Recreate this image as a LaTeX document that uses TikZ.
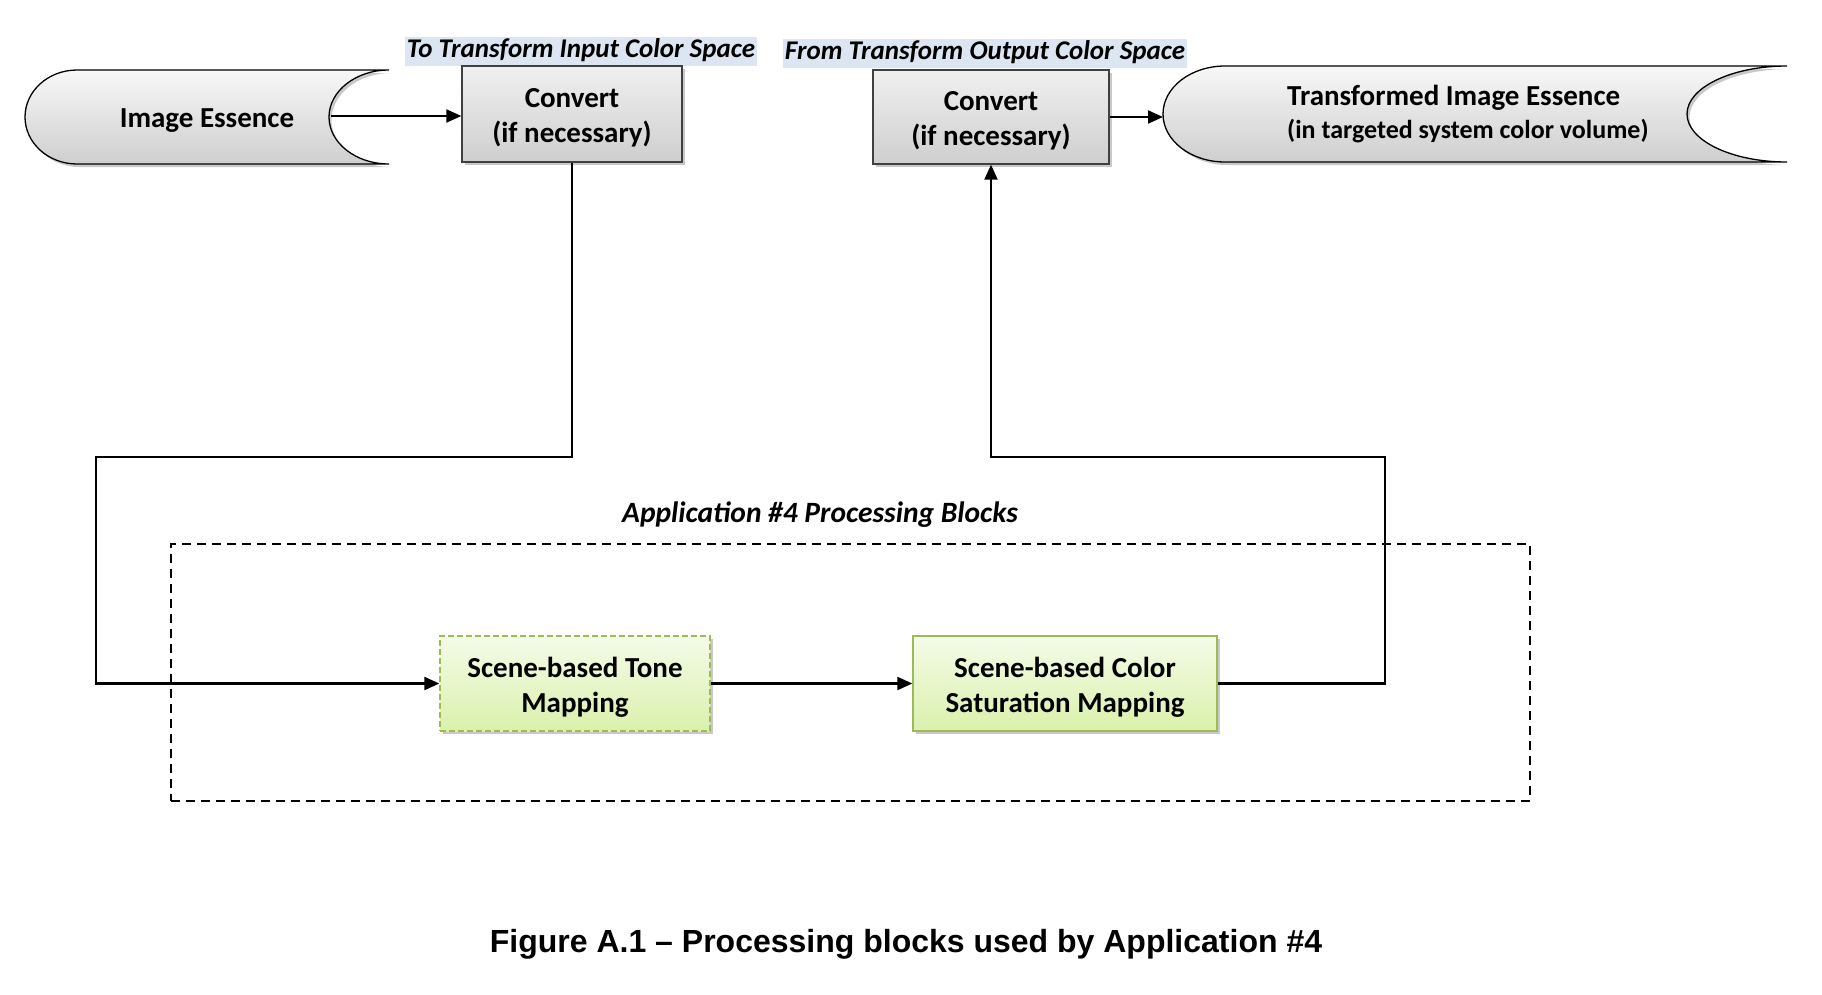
\documentclass[tikz,border=0pt]{standalone}
\usepackage{fontspec}
\setmainfont{Carlito}
\newfontfamily\capfont{Liberation Sans}
\usetikzlibrary{arrows.meta,shadows}
\definecolor{labbg}{HTML}{DCE6F2}
\definecolor{grborder}{HTML}{9BBB59}
\definecolor{grtop}{HTML}{F4FBE8}
\definecolor{grbot}{HTML}{DAF1AC}
\tikzset{
  shd/.style={drop shadow={shadow xshift=2.5pt,shadow yshift=-3pt,opacity=.3,fill=black!70}},
  bigfont/.style={font=\fontsize{29}{35}\selectfont\bfseries},
  boxtext/.style={bigfont,align=center,inner sep=0pt},
  convbox/.style={draw=black!75,line width=1.3pt,top color=gray!12,bottom color=gray!38,shd,inner sep=0pt},
  greenbox/.style={draw=grborder,line width=1.3pt,top color=grtop,bottom color=grbot,shd,inner sep=0pt},
  datashape/.style={draw=black,line width=1.3pt,top color=gray!6,bottom color=gray!38,shd},
  lab/.style={fill=labbg,font=\fontsize{27}{30}\selectfont\bfseries\itshape,inner xsep=2pt,inner ysep=0pt,
    text height=19pt,text depth=7pt,minimum height=29pt},
  conn/.style={draw=black,line width=2.1pt},
  arr/.style={conn,-{Triangle[length=15pt,width=13pt]}},
  groupbox/.style={draw=black,line width=1.5pt,dash pattern=on 9pt off 6pt,inner sep=0pt}
}
\begin{document}
\begin{tikzpicture}[x=1pt,y=-1pt]
\useasboundingbox (0,0) rectangle (1822,994);
% data shapes
\path[datashape] (389,70) -- (77,70) arc[start angle=270,end angle=90,x radius=52,y radius=47]
  -- (389,164) arc[start angle=90,end angle=270,x radius=60,y radius=47] -- cycle;
\path[datashape] (1787,66) -- (1225,66) arc[start angle=270,end angle=90,x radius=62,y radius=48]
  -- (1787,162) arc[start angle=90,end angle=270,x radius=100,y radius=48] -- cycle;
\node[bigfont,minimum width=248pt,minimum height=94pt,inner sep=0pt] (ie) at (207,120.5) {Image Essence};
\node[anchor=west,align=left,inner sep=0pt,font=\fontsize{29}{33}\selectfont\bfseries] (tie) at (1287,114.5)
  {Transformed Image Essence\\{\fontsize{26}{33}\selectfont(in targeted system color volume)}};
\coordinate (tiein) at (1163,116);
% convert boxes
\node[lab] (lab1) at (581,51.5) {To Transform Input Color Space};
\node[lab] (lab2) at (985,53.5) {From Transform Output Color Space};
\node[convbox,minimum width=220pt,minimum height=96pt] (conv1) at (572,114) {};
\node[boxtext] (conv1t) at (572,117.5) {Convert\\(if necessary)};
\node[convbox,minimum width=236pt,minimum height=94pt] (conv2) at (991,117) {};
\node[boxtext] (conv2t) at (991,120.5) {Convert\\(if necessary)};
% group
\node[groupbox,minimum width=1359pt,minimum height=257pt] (grp) at (850.5,672.5) {};
\node[font=\fontsize{29.5}{34}\selectfont\bfseries\itshape] (ttl) at (820,514.5) {Application \#4 Processing Blocks};
\node[greenbox,dash pattern=on 6pt off 3pt,minimum width=270pt,minimum height=95pt] (tm) at (575,683.5) {};
\node[boxtext] (tmt) at (575,687) {Scene-based Tone\\Mapping};
\node[greenbox,minimum width=304pt,minimum height=95pt] (csm) at (1065,683.5) {};
\node[boxtext] (csmt) at (1065,687) {Scene-based Color\\Saturation Mapping};
% connectors
\coordinate (b1) at (96,457);
\coordinate (b2) at (1385,457);
\draw[arr] ([yshift=4.5pt]ie.east) -- ([yshift=4.5pt]ie.east -| conv1.west);
\draw[arr] (conv2.east) -- (conv2.east -| tiein);
\draw[arr] (conv1.south) |- (b1) |- (tm.west);
\draw[arr] (tm.east) -- (csm.west);
\draw[arr] (csm.east) -| (b2) -| (conv2.south);
% caption
\node[font=\capfont\bfseries\fontsize{32}{38}\selectfont] (cap) at (906,944) {Figure A.1 \textendash{} Processing blocks used by Application \#4};
\end{tikzpicture}
\end{document}
